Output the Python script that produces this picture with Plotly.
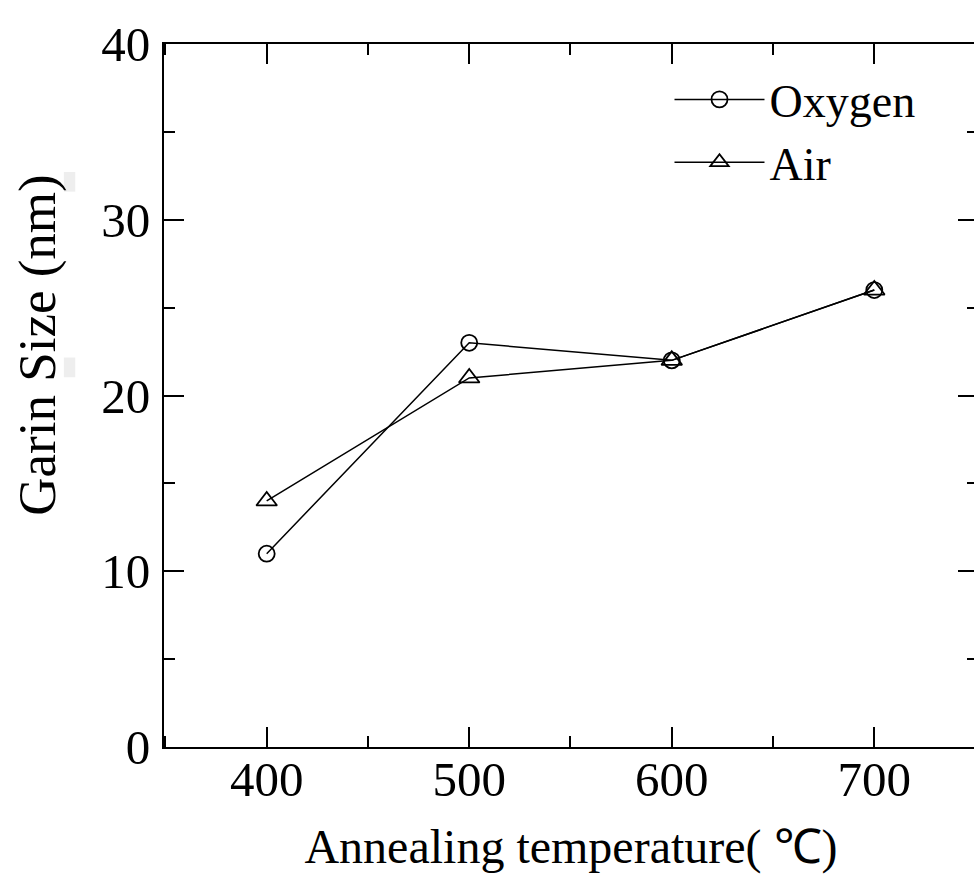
import plotly.graph_objects as go

temps = [400, 500, 600, 700]
oxygen = [11, 23, 22, 26]
air = [14, 21, 22, 26]

x_ticks = [400, 500, 600, 700]
y_ticks = [0, 10, 20, 30, 40]

FONT = "Liberation Serif, Times New Roman, serif"

fig = go.Figure()
fig.add_trace(go.Scatter(
    x=temps, y=oxygen, name="Oxygen", mode="lines+markers",
    line=dict(color="black", width=1.5),
    marker=dict(symbol="circle-open", size=16, color="black", line=dict(width=1.8)),
))
fig.add_trace(go.Scatter(
    x=temps, y=air, name="Air", mode="lines+markers",
    line=dict(color="black", width=1.5),
    marker=dict(symbol="triangle-up-open", size=18, color="black", line=dict(width=1.8)),
))

axis_common = dict(
    showgrid=False, zeroline=False, showline=True, linecolor="black", linewidth=2,
    ticks="inside", tickcolor="black", tickwidth=2, ticklen=20, mirror="allticks",
    tickfont=dict(family=FONT, size=49, color="black"),
)

fig.update_xaxes(
    range=[349.3, 751.2], tickmode="array", tickvals=x_ticks, ticktext=[str(v) for v in x_ticks],
    minor=dict(ticks="inside", ticklen=11, tickwidth=2, tickcolor="black", dtick=50, tick0=350),
    ticklabelstandoff=-12,
    title=dict(text="Annealing temperature( ℃)", font=dict(family=FONT, size=48, color="black"), standoff=24),
    **axis_common,
)
fig.update_yaxes(
    range=[0, 40], tickmode="array", tickvals=y_ticks, ticktext=[str(v) for v in y_ticks],
    minor=dict(ticks="inside", ticklen=11, tickwidth=2, tickcolor="black", dtick=5, tick0=0),
    ticklabelstandoff=2,
    **axis_common,
)

fig.add_annotation(
    text="Garin Size (nm)", textangle=-90, xref="paper", yref="paper",
    x=-0.155, y=0.572, xanchor="center", yanchor="middle", showarrow=False,
    font=dict(family=FONT, size=53, color="black"),
)

# faint grey specks visible left of the y-axis in the original scan
for y0, y1 in [(0.79, 0.818), (0.526, 0.554)]:
    fig.add_shape(type="rect", xref="paper", yref="paper",
                  x0=-0.123, x1=-0.109, y0=y0, y1=y1,
                  fillcolor="#eeeeee", line=dict(width=0), layer="below")

fig.update_layout(
    width=980, height=888,
    margin=dict(l=164, r=0, t=44, b=141),
    paper_bgcolor="white", plot_bgcolor="white",
    showlegend=True,
    legend=dict(
        x=0.621, y=0.973, xanchor="left", yanchor="top",
        font=dict(family=FONT, size=46, color="black"),
        bgcolor="rgba(0,0,0,0)", tracegroupgap=0, itemwidth=90,
    ),
)

fig.write_html(
    "out.html",
    config={"displayModeBar": False},
    post_script="document.body.style.margin='0';document.body.style.overflow='hidden';",
)
